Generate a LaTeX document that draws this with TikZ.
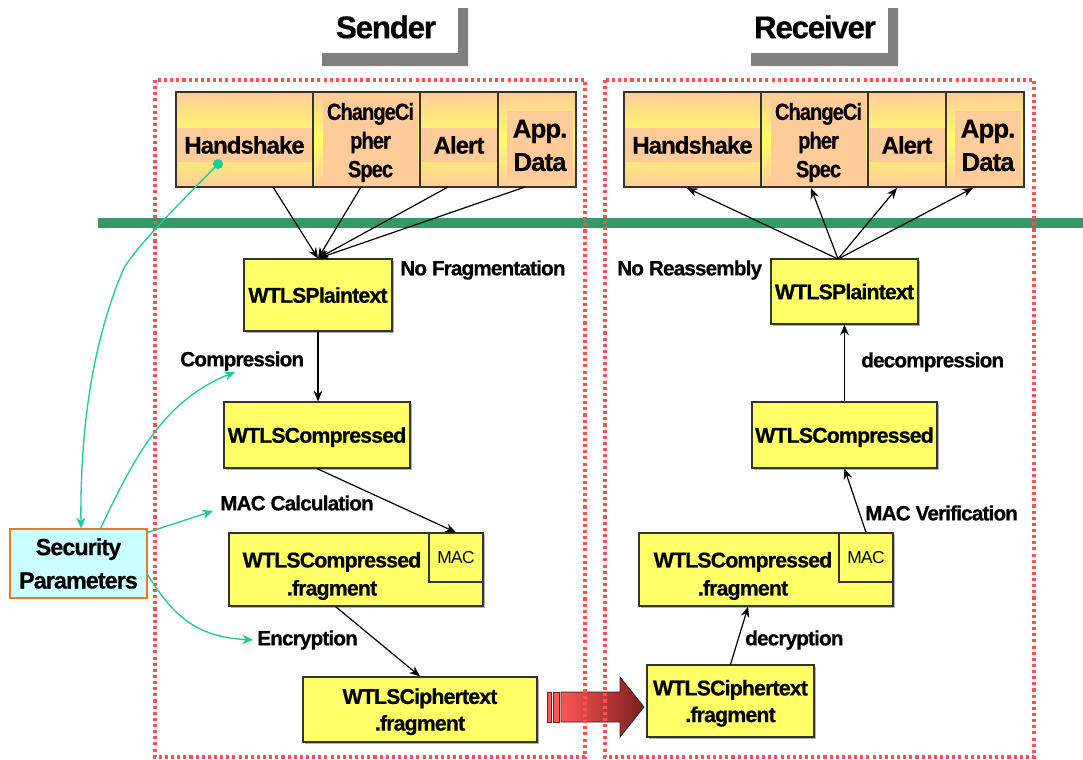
\documentclass[tikz,border=0pt]{standalone}
\usepackage{fontspec}
\setmainfont{Liberation Sans}[LetterSpace=-4, BoldFeatures={FakeBold=0.6}]
\usetikzlibrary{arrows.meta,shadows,calc}
\definecolor{boxyellow}{HTML}{FFFF66}
\definecolor{peach}{HTML}{FFCC99}
\definecolor{bandgreen}{HTML}{339966}
\definecolor{paramteal}{HTML}{1ACC99}
\definecolor{dotred}{HTML}{FF5050}
\definecolor{secfill}{HTML}{CCFFFF}
\definecolor{secline}{HTML}{F07820}
\definecolor{titlegray}{HTML}{808080}
\definecolor{arrowdark}{HTML}{7A1E1E}
\definecolor{arrowlight}{HTML}{FF5555}
\begin{document}
\begin{tikzpicture}[x=0.75pt,y=-0.75pt,
  sz/.style 2 args={minimum width=#1*0.75pt, minimum height=#2*0.75pt},
  box/.style={draw=black!80, line width=0.9pt, fill=boxyellow, inner sep=0pt,
    align=center, font=\bfseries\fontsize{16}{20}\selectfont, text depth=0pt,
    drop shadow={shadow xshift=1.2pt, shadow yshift=-1.2pt, fill=black, opacity=0.3}},
  macbox/.style={draw=black!80, line width=0.9pt, fill=boxyellow, inner sep=0pt,
    text depth=0pt, font=\fontsize{13}{14}\selectfont},
  txt/.style={inner sep=0pt, align=center, font=\bfseries\fontsize{16}{21}\selectfont},
  lbl/.style={inner sep=0pt, anchor=west, font=\bfseries\fontsize{15.5}{18}\selectfont},
  cell/.style={draw=black!80, line width=0.9pt, top color=peach, bottom color=peach,
    middle color=boxyellow, inner sep=0pt},
  band/.style={fill=peach, inner sep=0pt, align=center,
    font=\bfseries\fontsize{18}{21.5}\selectfont},
  narrowband/.style={band, font=\bfseries\fontsize{17.5}{21.5}\selectfont\addfontfeatures{FakeStretch=0.86}},
  title/.style={inner sep=0pt, font=\bfseries\fontsize{23.5}{28}\selectfont},
  zone/.style={draw=dotred, line width=2.3pt, dash pattern=on 2.3pt off 2.3pt},
  flow/.style={-{Stealth[length=8pt,width=6.5pt]}, line width=0.9pt},
  param/.style={paramteal, line width=1pt, -{Stealth[length=8pt,width=7pt,inset=2.5pt]}},
  secbox/.style={draw=secline, line width=1pt, fill=secfill, inner sep=0pt, align=center,
    font=\bfseries\fontsize{17.5}{25}\selectfont}
]
\useasboundingbox (0,0) rectangle (1083,760);

% ---- titles ----
\fill[titlegray] (322,53) -- (458,53) -- (458,8) -- (468,8) -- (468,66) -- (322,66) -- cycle;
\node[title] (sendt) at (386,27) {Sender};
\fill[titlegray] (751,53) -- (888,53) -- (888,8) -- (898,8) -- (898,66) -- (751,66) -- cycle;
\node[title] (recvt) at (815,27) {Receiver};

% ---- record / upper layer boundary ----
\fill[bandgreen] (98,218) rectangle (1083,228);

% ---- transfer arrow between the two stacks ----
\fill[arrowlight] (547,692) rectangle (551,722);
\draw[arrowdark, line width=0.6pt] (547,692) rectangle (551,722);
\fill[arrowlight] (553,692) rectangle (559,722);
\draw[arrowdark, line width=0.6pt] (553,692) rectangle (559,722);
\shade[left color=arrowlight, right color=arrowdark]
  (561,692) -- (620,692) -- (620,677) -- (644,707) -- (620,737) -- (620,722) -- (561,722) -- cycle;
\draw[black!85, line width=0.6pt]
  (561,692) -- (620,692) -- (620,677) -- (644,707) -- (620,737) -- (620,722) -- (561,722) -- cycle;

% ---- sender / receiver zones ----
\draw[zone] (155,80) rectangle (585,757);
\draw[zone] (605,80) rectangle (1034,757);

% ---- upper layer protocols, sender ----
\node[cell, sz={137}{95}] (shs) at (244.5,139.5) {};
\node[cell, sz={107}{95}] (sccs) at (366.5,139.5) {};
\node[cell, sz={78}{95}] (sal) at (459,139.5) {};
\node[cell, sz={78}{95}] (sapp) at (537,139.5) {};
\node[band, sz={135}{34}] (shst) at (244.5,145) {Handshake};
\node[narrowband, sz={95}{87}] (sccst) at (370.5,142.5) {ChangeCi\\pher\\Spec};
\node[band, sz={76}{34}] (salt) at (459,145) {Alert};
\node[band, sz={66}{69}, font=\bfseries\fontsize{19.5}{25}\selectfont] (sappt) at (540,145.5) {App.\\Data};

% ---- upper layer protocols, receiver ----
\node[cell, sz={137}{95}] (rhs) at (692.5,139.5) {};
\node[cell, sz={107}{95}] (rccs) at (814.5,139.5) {};
\node[cell, sz={78}{95}] (ral) at (907,139.5) {};
\node[cell, sz={78}{95}] (rapp) at (985,139.5) {};
\node[band, sz={135}{34}] (rhst) at (692.5,145) {Handshake};
\node[narrowband, sz={95}{87}] (rccst) at (818.5,142.5) {ChangeCi\\pher\\Spec};
\node[band, sz={76}{34}] (ralt) at (907,145) {Alert};
\node[band, sz={66}{69}, font=\bfseries\fontsize{19.5}{25}\selectfont] (rappt) at (988,145.5) {App.\\Data};

% ---- sender record processing ----
\node[box, sz={148}{72}] (sp) at (318,295) {WTLSPlaintext};
\node[box, sz={186}{66}] (sc) at (317,435) {WTLSCompressed};
\node[box, sz={254}{73}] (sf) at (356,569.5) {};
\node[macbox, sz={54}{49}] (smac) at (456,557.5) {MAC};
\node[txt] (sft) at (332,576) {WTLSCompressed\\.fragment};
\node[box, sz={234}{65}] (sct) at (420,709.5) {WTLSCiphertext\\.fragment};

% ---- receiver record processing ----
\node[box, sz={147}{65}] (rp) at (844.5,291.5) {WTLSPlaintext};
\node[box, sz={185}{66}] (rc) at (844.5,435) {WTLSCompressed};
\node[box, sz={254}{73}] (rf) at (766,569.5) {};
\node[macbox, sz={54}{49}] (rmac) at (866,557.5) {MAC};
\node[txt] (rft) at (743,576) {WTLSCompressed\\.fragment};
\node[box, sz={167}{72}] (rct) at (730.5,701) {WTLSCiphertext\\.fragment};

% ---- security parameters ----
\node[secbox, sz={137}{69}] (sec) at (78.5,563.5) {Security\\Parameters};

% ---- labels ----
\node[lbl] (nofrag) at (400,270) {No Fragmentation};
\node[lbl] (comp) at (180,361) {Compression};
\node[lbl] (maccalc) at (220,503) {MAC Calculation};
\node[lbl] (enc) at (257,640) {Encryption};
\node[lbl] (noreas) at (617,270) {No Reassembly};
\node[lbl] (decomp) at (861,362) {decompression};
\node[lbl] (macver) at (865,513) {MAC Verification};
\node[lbl] (decr) at (745,640) {decryption};

% ---- sender flow ----
\coordinate (shsout) at (273,187);
\coordinate (sccsout) at (361,187);
\coordinate (salout) at (448,187);
\coordinate (sappout) at (525,187);
\draw[flow] (shsout) -- (sp.north);
\draw[flow] (sccsout) -- (sp.north);
\draw[flow] (salout) -- (sp.north);
\draw[flow] (sappout) -- (sp.north);
\draw[flow] (sp.south) -- (sp.south |- sc.north);
\draw[flow] (sc.south) -- (smac.north);
\draw[flow] ($(sf.south west)!0.42!(sf.south east)$) -- (sct.north);

% ---- receiver flow ----
\coordinate (rpout) at (838,259);
\coordinate (rhsin) at (687,188);
\coordinate (rccsin) at (811,188);
\coordinate (ralin) at (897,188);
\coordinate (rappin) at (973,188);
\draw[flow] (rpout) -- (rhsin);
\draw[flow] (rpout) -- (rccsin);
\draw[flow] (rpout) -- (ralin);
\draw[flow] (rpout) -- (rappin);
\draw[flow] (rc.north) -- (rc.north |- rp.south);
\draw[flow] (rmac.north) -- (rc.south);
\draw[flow] (rct.north) -- ($(rf.south west)!0.43!(rf.south east)$);

% ---- security parameter connections ----
\coordinate (hsdot) at (218,164);
\coordinate (compin) at (235,372);
\coordinate (macin) at (213,511);
\coordinate (encin) at (253,640);
\draw[param] (hsdot) .. controls (175,208) and (138,245) .. (124,268)
  .. controls (95,335) and (80,420) .. ($(sec.north)+(2.5,0)$);
\fill[paramteal] (hsdot) circle (5);
\draw[param] ($(sec.north west)!0.66!(sec.north east)$) .. controls (135,455) and (165,400) .. (compin);
\draw[param] ($(sec.north east)+(0,4)$) -- (macin);
\draw[param] ($(sec.east)+(-1,9.5)$) .. controls (175,620) and (200,637) .. (encin);
\end{tikzpicture}
\end{document}
